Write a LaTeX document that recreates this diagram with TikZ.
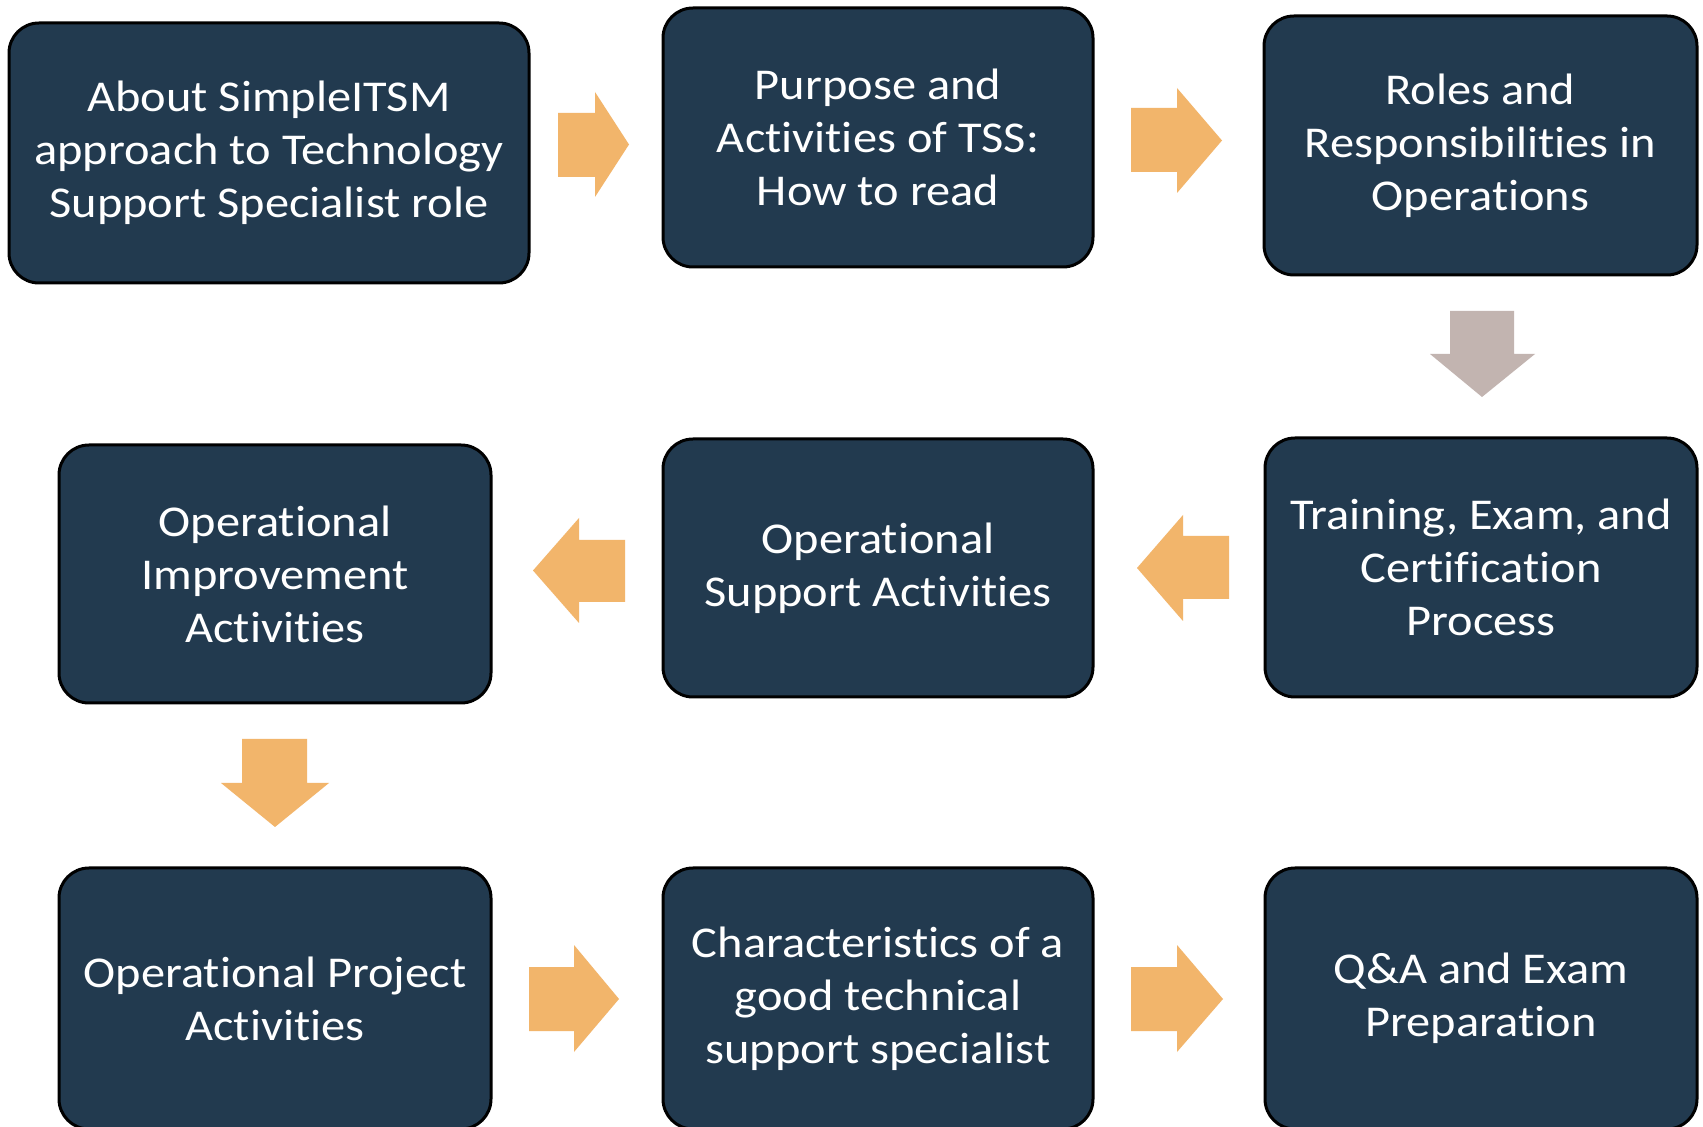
\documentclass[tikz,border=0pt]{standalone}
\usepackage{fontspec}
\setmainfont[FakeStretch=1.1,Ligatures=NoCommon]{Carlito}
\definecolor{boxfill}{HTML}{223A4F}
\definecolor{arroworange}{HTML}{F2B56B}
\definecolor{arrowgrey}{HTML}{C2B4B0}
\begin{document}
\begin{tikzpicture}[x=0.5pt,y=-0.5pt,
  stagebox/.style={draw=black,line width=1.5pt,fill=boxfill,rounded corners=15pt,
    text=white,align=center,inner sep=0pt,font=\fontsize{22}{26.5}\selectfont},
  orangearrow/.style={fill=arroworange},
  greyarrow/.style={fill=arrowgrey}]
\useasboundingbox (0,0) rectangle (1703,1127);
\clip (0,0) rectangle (1703,1127);
\fill[white] (0,0) rectangle (1703,1127);
% boxes
\node[stagebox,minimum width=260pt,minimum height=130pt] (A) at (269,153)
  {About SimpleITSM\\approach to Technology\\Support Specialist role};
\node[stagebox,minimum width=215pt,minimum height=129.5pt] (B) at (878,137.5)
  {Purpose and\\Activities of TSS:\\How to read};
\node[stagebox,minimum width=216.5pt,minimum height=129.5pt] (C) at (1480.5,145.5)
  {Roles and\\Responsibilities in\\Operations};
\node[stagebox,minimum width=216pt,minimum height=129.5pt] (D) at (1481,567.5)
  {Training, Exam, and\\Certification\\Process};
\node[stagebox,minimum width=215pt,minimum height=129pt] (E) at (878,568)
  {Operational\\Support Activities};
\node[stagebox,minimum width=216pt,minimum height=129pt] (F) at (275,574)
  {Operational\\Improvement\\Activities};
\node[stagebox,minimum width=216pt,minimum height=130.5pt] (G) at (275,998.5)
  {Operational Project\\Activities};
\node[stagebox,minimum width=215pt,minimum height=130.5pt] (H) at (878,998.5)
  {Characteristics of a\\good technical\\support specialist};
\node[stagebox,minimum width=216pt,minimum height=130.5pt] (I) at (1481,998.5)
  {Q\&A and Exam\\Preparation};
% block arrows
\fill[orangearrow] (558,113) -- (595,113) -- (595,92) -- (629,144.5) -- (595,197) -- (595,177) -- (558,177) -- cycle;
\fill[orangearrow] (1131,108) -- (1177,108) -- (1177,88) -- (1222,140.5) -- (1177,193) -- (1177,172) -- (1131,172) -- cycle;
\fill[greyarrow] (1450,311) -- (1514,311) -- (1514,354) -- (1535,354) -- (1482,397) -- (1430,354) -- (1450,354) -- cycle;
\fill[orangearrow] (1229,536) -- (1183,536) -- (1183,515) -- (1137,568) -- (1183,621) -- (1183,599) -- (1229,599) -- cycle;
\fill[orangearrow] (625,540) -- (579,540) -- (579,518) -- (533,570.5) -- (579,623) -- (579,602) -- (625,602) -- cycle;
\fill[orangearrow] (242,739) -- (307,739) -- (307,783) -- (329,783) -- (275,827) -- (221,783) -- (242,783) -- cycle;
\fill[orangearrow] (529,967) -- (574,967) -- (574,945) -- (619,999) -- (574,1052) -- (574,1031) -- (529,1031) -- cycle;
\fill[orangearrow] (1131,967) -- (1177,967) -- (1177,945) -- (1223,999) -- (1177,1052) -- (1177,1031) -- (1131,1031) -- cycle;
\end{tikzpicture}
\end{document}
